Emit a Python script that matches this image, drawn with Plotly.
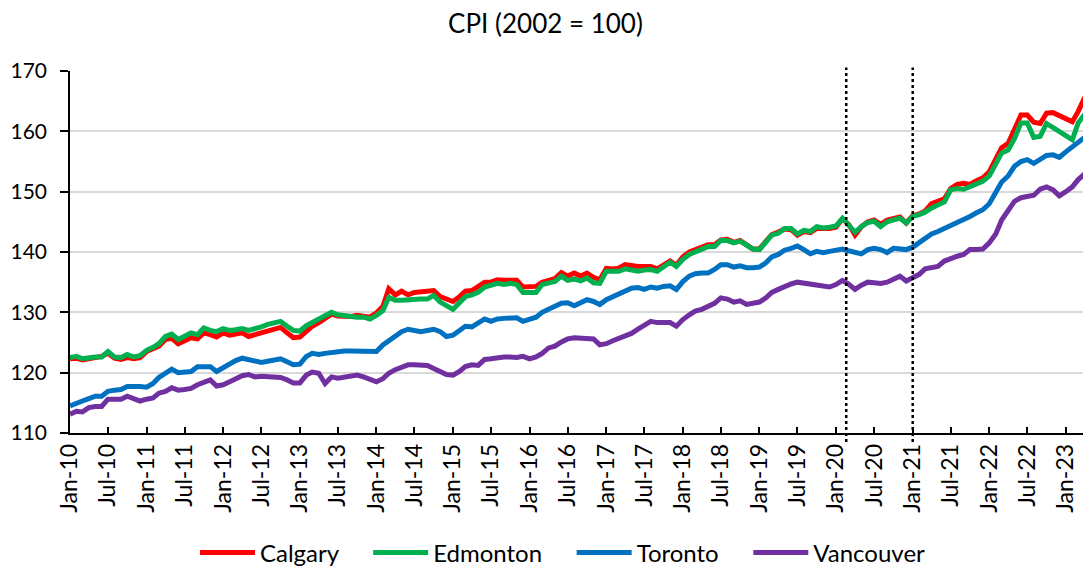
import pandas as pd
import plotly.graph_objects as go

months = pd.date_range("2010-01-01", "2023-05-01", freq="MS")

calgary = [
    122.3, 122.4, 122.1, 122.3, 122.6, 122.7, 123.2, 122.4, 122.2, 122.5, 122.3, 122.5,
    123.5, 123.9, 124.4, 125.5, 125.7, 124.8, 125.3, 125.8, 125.6, 126.6, 126.3, 125.9,
    126.6, 126.2, 126.4, 126.6, 126.0, 126.3, 126.8, 127.1, 127.3, 127.5, 126.6, 125.8,
    125.9, 127.0, 127.7, 128.3, 129.1, 129.7, 129.4, 129.3, 129.3, 129.5, 129.4, 129.2,
    129.9, 131.0, 133.9, 132.9, 133.5, 132.9, 133.3, 133.4, 133.6, 133.6, 132.6, 132.2,
    131.8, 132.6, 133.5, 133.6, 134.2, 135.0, 135.0, 135.4, 135.3, 135.4, 135.3, 134.2,
    134.2, 134.3, 135.0, 135.3, 135.6, 136.6, 136.0, 136.5, 136.0, 136.5, 135.8, 135.4,
    137.3, 137.2, 137.3, 137.9, 137.7, 137.6, 137.6, 137.6, 137.2, 137.9, 138.5, 137.8,
    139.2, 140.0, 140.4, 140.8, 141.2, 141.2, 142.0, 142.1, 141.6, 141.9, 141.2, 140.5,
    140.5, 141.9, 142.9, 143.3, 143.8, 143.7, 142.8, 143.4, 143.2, 143.9, 143.8, 143.9,
    144.1, 145.5, 144.6, 142.8, 144.2, 145.0, 145.3, 144.6, 145.3, 145.6, 145.8, 144.8,
    146.0, 146.3, 146.8, 148.0, 148.4, 148.8, 150.5, 151.2, 151.4, 151.2, 151.8, 152.3,
    153.3, 155.5, 157.3, 158.0, 160.2, 162.7, 162.7, 161.5, 161.3, 163.0, 163.1, 162.6,
    162.2, 161.6, 163.3, 165.6, 166.0,
]

edmonton = [
    122.5, 122.7, 122.3, 122.5, 122.6, 122.6, 123.5, 122.6, 122.5, 123.0, 122.6, 122.8,
    123.7, 124.2, 124.8, 126.0, 126.4, 125.5, 126.0, 126.6, 126.3, 127.4, 127.0, 126.8,
    127.3, 127.0, 127.1, 127.3, 127.0, 127.2, 127.6, 128.0, 128.2, 128.5, 127.7, 127.0,
    126.9, 127.8, 128.3, 128.9, 129.5, 130.0, 129.6, 129.4, 129.4, 129.2, 129.2, 128.9,
    129.5, 130.3, 132.5, 132.0, 132.0, 132.1, 132.3, 132.2, 132.2, 132.8, 131.7, 131.1,
    130.5, 131.6, 132.6, 132.9, 133.3, 134.2, 134.5, 134.8, 134.6, 134.8, 134.6, 133.3,
    133.3, 133.3, 134.6, 134.8, 135.1, 136.0, 135.3, 135.5, 135.2, 135.7, 134.9, 134.8,
    136.8, 136.8, 136.8, 137.2, 137.0, 136.8, 137.0, 137.1, 136.8, 137.5, 138.3, 137.6,
    138.8, 139.6, 140.0, 140.5, 140.9, 140.9, 141.9, 141.9, 141.5, 141.8, 141.1, 140.5,
    140.4, 141.8, 142.8, 143.1, 143.9, 143.9, 143.0, 143.6, 143.4, 144.2, 144.0, 144.1,
    144.3, 145.6, 144.5, 143.3, 144.2, 144.9, 145.1, 144.2, 145.0, 145.4, 145.6, 144.8,
    145.9, 146.2, 146.6, 147.3, 147.8, 148.3, 150.3, 150.5, 150.4, 150.8, 151.2, 151.7,
    152.6, 154.8, 156.4, 156.9, 158.8, 161.4, 161.4, 159.0, 159.2, 161.3, 160.7, 160.0,
    159.3, 158.6, 161.4, 162.8, 163.2,
]

toronto = [
    114.5, 115.0, 115.3, 115.7, 116.1, 116.1, 116.9, 117.1, 117.2, 117.7, 117.8, 117.7,
    117.6, 118.2, 119.2, 119.8, 120.6, 120.0, 120.1, 120.2, 121.0, 121.1, 121.0, 120.2,
    120.8, 121.6, 122.0, 122.4, 122.2, 121.8, 121.7, 121.9, 122.1, 122.3, 121.8, 121.3,
    121.4, 122.7, 123.2, 123.0, 123.2, 123.4, 123.5, 123.6, 123.6, 123.6, 123.6, 123.4,
    123.5, 124.6, 125.3, 126.1, 126.8, 127.2, 126.9, 126.8, 127.0, 127.2, 126.8, 126.0,
    126.2, 127.0, 127.7, 127.6, 128.3, 128.9, 128.5, 128.9, 129.0, 129.1, 129.1, 128.5,
    128.8, 129.2, 130.0, 130.6, 131.0, 131.5, 131.6, 131.1, 131.7, 132.1, 131.8, 131.3,
    132.1, 132.6, 133.2, 133.5, 134.0, 134.1, 133.8, 134.2, 134.0, 134.3, 134.4, 133.8,
    135.1, 136.0, 136.4, 136.5, 136.5, 137.1, 137.9, 137.9, 137.5, 137.7, 137.4, 137.4,
    137.5, 138.2, 139.2, 139.6, 140.3, 140.6, 141.0, 140.4, 139.7, 140.1, 139.9, 140.1,
    140.4, 140.5, 140.2, 139.9, 139.7, 140.4, 140.6, 140.4, 139.9, 140.6, 140.5, 140.4,
    140.8, 141.5, 142.3, 143.0, 143.4, 143.9, 144.3, 144.8, 145.2, 145.9, 146.5, 147.0,
    148.0, 150.0, 151.6, 152.6, 154.2, 155.0, 155.3, 154.7, 155.3, 156.0, 156.1, 155.7,
    156.6, 157.4, 158.3, 159.0, 159.8,
]

vancouver = [
    113.1, 113.6, 113.5, 114.2, 114.4, 114.4, 115.6, 115.6, 115.6, 116.1, 115.6, 115.3,
    115.6, 115.8, 116.6, 116.9, 117.5, 117.1, 117.2, 117.4, 118.0, 118.3, 118.8, 117.8,
    118.0, 118.5, 119.1, 119.5, 119.7, 119.3, 119.4, 119.4, 119.4, 119.2, 118.8, 118.3,
    118.3, 119.6, 120.1, 119.9, 118.2, 119.3, 119.1, 119.3, 119.5, 119.6, 119.3, 118.8,
    118.5, 119.0, 119.9, 120.5, 121.0, 121.3, 121.3, 121.3, 121.2, 120.7, 120.3, 119.7,
    119.6, 120.2, 121.0, 121.3, 121.2, 122.2, 122.3, 122.5, 122.6, 122.6, 122.5, 122.7,
    122.3, 122.6, 123.2, 124.1, 124.4, 125.1, 125.6, 125.8, 125.8, 125.6, 125.6, 124.6,
    124.8, 125.3, 125.7, 126.0, 126.5, 127.2, 127.9, 128.5, 128.3, 128.3, 128.3, 127.7,
    128.8, 129.6, 130.2, 130.5, 131.0, 131.5, 132.4, 132.2, 131.7, 131.9, 131.3, 131.6,
    131.7, 132.4, 133.3, 133.8, 134.3, 134.7, 135.0, 134.8, 134.7, 134.6, 134.4, 134.2,
    134.6, 135.3, 134.7, 133.8, 134.5, 135.0, 134.9, 134.8, 135.0, 135.5, 136.0, 135.2,
    135.7, 136.3, 137.2, 137.4, 137.6, 138.5, 139.0, 139.3, 139.6, 140.4, 140.4, 140.5,
    141.5, 143.0, 145.3, 146.8, 148.4, 149.0, 149.3, 149.4, 150.4, 150.8, 150.3, 149.3,
    150.0, 150.8, 152.0, 153.0, 153.9,
]

series_names = ["Calgary", "Edmonton", "Toronto", "Vancouver"]
series_values = [calgary, edmonton, toronto, vancouver]
series_colors = ["#FF0000", "#00B050", "#0070C0", "#7030A0"]

event_dates = ["2020-02-19", "2021-01-01"]

FONT = "Lato"
# the page body has an 8px margin, so the figure is drawn 8px in from the window corner
OFF = 8
W, H = 1091 - OFF, 569 - OFF
GAP = "\u00a0" * 4  # extra room between legend entries

fig = go.Figure()
for k, (name, vals, col) in enumerate(zip(series_names, series_values, series_colors)):
    label = name + (GAP if k < len(series_names) - 1 else "")
    fig.add_trace(go.Scatter(
        x=months, y=vals, name=label, mode="lines",
        line=dict(color=col, width=5),
    ))

for d in event_dates:
    fig.add_shape(type="line", xref="x", yref="paper",
                  x0=d, x1=d, y0=-0.025, y1=1.01,
                  line=dict(color="black", width=2.5, dash="dot"))

fig.update_layout(
    width=W, height=H,
    margin=dict(l=70 - OFF, r=0, t=71 - OFF, b=H - (433.5 - OFF), autoexpand=False),
    paper_bgcolor="white", plot_bgcolor="white",
    font=dict(family=FONT, size=20, color="black"),
    title=dict(text="CPI (2002 = 100)", x=(545.5 - OFF) / W, xanchor="center",
               y=1 - (24 - OFF) / H, yanchor="middle", yref="container",
               font=dict(family=FONT, size=26, color="black")),
    showlegend=True,
    legend=dict(orientation="h", xref="container", yref="container",
                x=(563 - OFF) / W, xanchor="center", y=1 - (553 - OFF) / H, yanchor="middle",
                font=dict(family=FONT, size=24, color="black"),
                itemwidth=55, tracegroupgap=0, bgcolor="rgba(0,0,0,0)"),
    xaxis=dict(
        type="date", range=["2010-01-01", "2023-05-01"],
        showgrid=False, zeroline=False, automargin=False,
        showline=True, linecolor="black", linewidth=1.5,
        ticks="inside", ticklen=6, tickwidth=1.5, tickcolor="black",
        tick0="2010-01-01", dtick="M6", tickformat="%b-%y",
        tickangle=-90, tickfont=dict(family=FONT, size=23, color="black"),
    ),
    yaxis=dict(
        range=[110, 170], dtick=10, tick0=110, automargin=False,
        showgrid=True, gridcolor="#D9D9D9", gridwidth=1.5, zeroline=False,
        showline=True, linecolor="black", linewidth=1.5,
        ticks="outside", ticklen=8, tickwidth=1.5, tickcolor="black",
        ticklabelstandoff=9,
        tickfont=dict(family=FONT, size=21, color="black"),
    ),
    yaxis2=dict(
        overlaying="y", anchor="x", side="left", range=[110, 170], dtick=10, tick0=110,
        showgrid=False, zeroline=False, showline=False, showticklabels=False,
        ticks="inside", ticklen=7, tickwidth=1.5, tickcolor="black",
    ),
)

fig.write_html("out.html")
